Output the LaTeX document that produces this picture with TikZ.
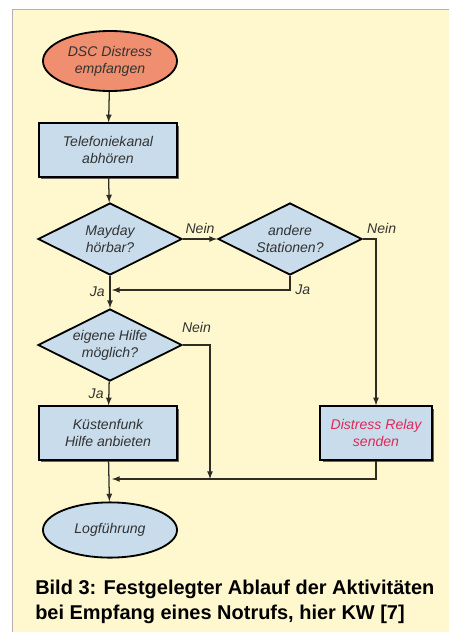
\documentclass[tikz,border=0pt]{standalone}
\usepackage{fontspec}
\setmainfont{Liberation Sans}
\usetikzlibrary{shapes.geometric,shadows,arrows}
\definecolor{papier}{RGB}{255,248,206}
\definecolor{hellblau}{RGB}{200,220,235}
\definecolor{lachs}{RGB}{240,142,112}
\definecolor{relayrot}{RGB}{225,40,90}
\definecolor{linie}{RGB}{45,45,35}

\begin{document}
\begin{tikzpicture}[>=latex, x=0.025cm, y=-0.025cm,
		every node/.style={font=\fontsize{10}{12}\selectfont\itshape, text=black!80, align=center},
		oval/.style={ellipse, draw, line width=1.3pt, inner sep=0pt, minimum width=3.35cm, minimum height=1.5cm},
		kasten/.style={rectangle, draw, line width=1.5pt, fill=hellblau, inner sep=0pt, minimum width=3.45cm, minimum height=1.33cm,
			drop shadow={shadow xshift=1.6pt, shadow yshift=-1.6pt, fill=black!60, opacity=1}},
		raute/.style={diamond, aspect=2, draw, line width=1.3pt, fill=hellblau, inner sep=0pt, minimum width=3.6cm, minimum height=1.8cm},
		pfeil/.style={->, draw=linie, line width=0.9pt}]
		%\draw [help lines] (0,0) grid (449,632);
		\useasboundingbox (0,0) rectangle (449,632);
		\fill[papier] (12,9) rectangle (449,632);
		\draw[gray!60] (12,632) -- (12,9) -- (449,9);
		%Start
		\node [oval, fill=lachs] (start) at (110,61) {DSC Distress\\empfangen};
		\node [kasten] (tel) at (108,150) {Telefoniekanal\\abhören};
		%Fragen
		\node [raute] (may) at (110,239) {Mayday\\hörbar?};
		\node [raute] (andere) at (290,239) {andere\\Stationen?};
		\node [raute] (hilfe) at (110,345) {eigene Hilfe\\möglich?};
		%Aktionen
		\node [kasten] (kueste) at (108,433) {Küstenfunk\\Hilfe anbieten};
		\node [kasten, minimum width=2.78cm, text=relayrot] (relay) at (376,433) {Distress Relay\\senden};
		\node [oval, fill=hellblau, minimum height=1.38cm] (log) at (110,530) {Logführung};
		%Zusammenfuehrungen
		\coordinate (ja1) at (112,290);
		\coordinate (nein3) at (210,479);
		\coordinate (ende) at (112,479);
		%Pfeile
		\draw[pfeil] (start) -- (tel);
		\draw[pfeil] (tel) -- (may);
		\draw[pfeil] (may) -- (andere) node [pos=0.5, above] {Nein};
		\draw[pfeil] (andere.east) -| (relay.north) node [pos=0.5, above, xshift=4pt] {Nein};
		\draw[pfeil] (andere.south) |- (ja1) node [pos=0.5, right] {Ja};
		\draw[pfeil] (may) -- (hilfe) node [pos=0.5, left] {Ja};
		\draw[pfeil] (hilfe.east) -| (nein3) node [pos=0.25, above, yshift=5pt] {Nein};
		\draw[pfeil] (hilfe) -- (kueste) node [pos=0.5, left] {Ja};
		\draw[pfeil] (relay.south) |- (ende);
		\draw[pfeil] (kueste) -- (log);
		%Bildunterschrift
		\node [anchor=north west, align=left, inner sep=0pt, text=black,
		font=\fontsize{14.2}{17.8}\selectfont\bfseries] (bild) at (35,580)
		{Bild 3: Festgelegter Ablauf der Aktivitäten\\bei Empfang eines Notrufs, hier KW [7]};
\end{tikzpicture}
\end{document}
